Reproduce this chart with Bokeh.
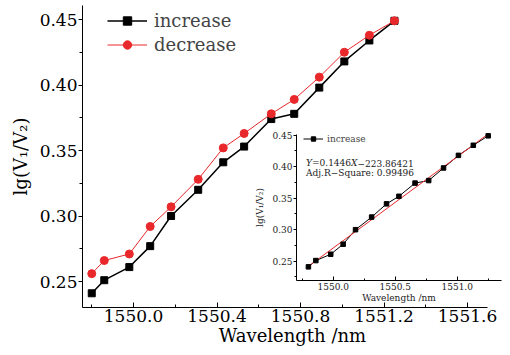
from bokeh.plotting import figure
from bokeh.models import (Range1d, LinearAxis, FixedTicker, PrintfTickFormatter,
                          Legend, LegendItem, Label)
from bokeh.embed import file_html
from bokeh.resources import INLINE

# ---------------- data ----------------
wavelength = [1549.80, 1549.86, 1549.98, 1550.08, 1550.18, 1550.31, 1550.43,
              1550.53, 1550.66, 1550.77, 1550.89, 1551.01, 1551.13, 1551.25]
increase = [0.241, 0.251, 0.261, 0.277, 0.300, 0.320, 0.341,
            0.353, 0.374, 0.378, 0.398, 0.418, 0.434, 0.449]
decrease = [0.256, 0.266, 0.271, 0.292, 0.307, 0.328, 0.352,
            0.363, 0.378, 0.389, 0.406, 0.425, 0.438, 0.449]
fit_x = [1549.80, 1551.25]
fit_y = [0.242, 0.452]

main_x_ticks = [1550.0, 1550.4, 1550.8, 1551.2, 1551.6]
main_x_minor = [1549.8, 1550.2, 1550.6, 1551.0, 1551.4]
main_y_ticks = [0.25, 0.30, 0.35, 0.40, 0.45]
main_y_minor = [0.275, 0.325, 0.375, 0.425]
inset_x_ticks = [1550.0, 1550.5, 1551.0]
inset_x_minor = [1549.75, 1550.25, 1550.75, 1551.25]
inset_y_ticks = [0.25, 0.30, 0.35, 0.40, 0.45]
inset_y_minor = [0.225, 0.275, 0.325, 0.375, 0.425]

eq_parts = ["Y", "=0.1446", "X", "\u2212223.86421"]
r2_text = "Adj.R\u2212Square: 0.99496"
y_label = "lg(V\u2081/V\u2082)"
x_label = "Wavelength /nm"

RED = "#e8282b"
FONT = "DejaVu Serif"

# ---------------- geometry (canvas px) ----------------
W, H = 510, 355
L, R, T, B = 82, 502, 5, 307

# main scale: 1550.0 at px 133, 208.75 px/nm ; 0.25 at py 281, 1310 px/unit
mx_ppu, mx_ref, mx_px = 208.75, 1550.0, 133.0
my_ppu, my_ref, my_py = 1310.0, 0.25, 281.0
x0 = mx_ref - (mx_px - L) / mx_ppu
x1 = mx_ref + (R - mx_px) / mx_ppu
xaxis_end = mx_ref + (487 - mx_px) / mx_ppu
y0 = my_ref - (B - my_py) / my_ppu
y1 = my_ref + (my_py - T) / my_ppu

# inset scale: 1550.0 at px 332.7, 124 px/nm ; 0.25 at py 260.7, 630 px/unit
ix_ppu, ix_ref, ix_px = 124.0, 1550.0, 332.7
iy_ppu, iy_ref, iy_py = 630.0, 0.25, 260.7
def ixd(px):
    return ix_ref + (px - ix_px) / ix_ppu
def iyd(py):
    return iy_ref - (py - iy_py) / iy_ppu

p = figure(width=W, height=H, output_backend="svg", toolbar_location=None,
           x_range=Range1d(x0, x1), y_range=Range1d(y0, y1),
           min_border_left=L, min_border_right=W - R,
           min_border_top=T, min_border_bottom=H - B,
           x_axis_type=None, y_axis_type=None)
p.outline_line_color = None
p.background_fill_color = "white"
p.border_fill_color = "white"
p.xgrid.visible = False
p.ygrid.visible = False

p.extra_x_ranges = {"ix": Range1d(ixd(L), ixd(R))}
p.extra_y_ranges = {"iy": Range1d(iyd(B), iyd(T))}

# ---------------- main axes ----------------
xax = LinearAxis(ticker=FixedTicker(ticks=main_x_ticks, minor_ticks=main_x_minor),
                 formatter=PrintfTickFormatter(format="%.1f"),
                 bounds=(x0, xaxis_end), axis_label=x_label)
yax = LinearAxis(ticker=FixedTicker(ticks=main_y_ticks, minor_ticks=main_y_minor),
                 formatter=PrintfTickFormatter(format="%.2f"),
                 axis_label=y_label)
for ax in (xax, yax):
    ax.axis_line_color = "black"
    ax.major_tick_line_color = "black"
    ax.minor_tick_line_color = "black"
    ax.major_label_text_font = FONT
    ax.major_label_text_font_size = "17px"
    ax.major_label_text_color = "black"
    ax.axis_label_text_font = FONT
    ax.axis_label_text_font_size = "18px"
    ax.axis_label_text_font_style = "normal"
    ax.axis_label_text_color = "black"
xax.major_tick_in, xax.major_tick_out = 5, 0
xax.minor_tick_in, xax.minor_tick_out = 3, 0
xax.major_label_standoff = 2
xax.axis_label_standoff = 0
yax.major_tick_in, yax.major_tick_out = 0, 4
yax.minor_tick_in, yax.minor_tick_out = 0, 3
yax.major_label_standoff = 1
yax.axis_label_standoff = 6
p.add_layout(xax, "below")
p.add_layout(yax, "left")

# ---------------- main series ----------------
l_inc = p.line(wavelength, increase, line_color="black", line_width=1.5)
s_inc = p.scatter(wavelength, increase, marker="square", size=7,
                  fill_color="black", line_color="black")
l_dec = p.line(wavelength, decrease, line_color=RED, line_width=1)
s_dec = p.scatter(wavelength, decrease, marker="circle", size=8,
                  fill_color=RED, line_color=RED)

leg = Legend(items=[LegendItem(label="increase", renderers=[l_inc, s_inc]),
                    LegendItem(label="decrease", renderers=[l_dec, s_dec])],
             location=(25, 252), padding=0, margin=0, spacing=3,
             glyph_width=40, glyph_height=21, label_height=21, label_standoff=7,
             label_text_font=FONT, label_text_font_size="18px",
             border_line_color=None, background_fill_alpha=0)
p.add_layout(leg, "center")

# ---------------- inset axes ----------------
i_x_start, i_x_end = ixd(296), ixd(500.7)
i_y_start, i_y_end = iyd(280), iyd(134)
ixax = LinearAxis(x_range_name="ix", y_range_name="iy",
                  ticker=FixedTicker(ticks=inset_x_ticks, minor_ticks=inset_x_minor),
                  formatter=PrintfTickFormatter(format="%.1f"),
                  fixed_location=i_y_start, bounds=(i_x_start, i_x_end),
                  axis_label=x_label)
iyax = LinearAxis(x_range_name="ix", y_range_name="iy",
                  ticker=FixedTicker(ticks=inset_y_ticks, minor_ticks=inset_y_minor),
                  formatter=PrintfTickFormatter(format="%.2f"),
                  fixed_location=i_x_start, bounds=(i_y_start, i_y_end),
                  axis_label=y_label)
for ax in (ixax, iyax):
    ax.axis_line_color = "black"
    ax.major_tick_line_color = "black"
    ax.minor_tick_line_color = "black"
    ax.major_label_text_font = FONT
    ax.major_label_text_font_size = "9px"
    ax.major_label_text_color = "#222222"
    ax.axis_label_text_font = FONT
    ax.axis_label_text_font_size = "9px"
    ax.axis_label_text_font_style = "normal"
    ax.axis_label_text_color = "#222222"
ixax.major_tick_in, ixax.major_tick_out = 4, 0
ixax.minor_tick_in, ixax.minor_tick_out = 2, 0
ixax.major_label_standoff = 2
ixax.axis_label_standoff = 0
iyax.major_tick_in, iyax.major_tick_out = 0, 3
iyax.minor_tick_in, iyax.minor_tick_out = 0, 2
iyax.major_label_standoff = 1
iyax.axis_label_standoff = 4
p.add_layout(ixax, "below")
p.add_layout(iyax, "left")

# ---------------- inset series ----------------
il = p.line(wavelength, increase, line_color="black", line_width=1,
            x_range_name="ix", y_range_name="iy")
p.line(fit_x, fit_y, line_color=RED, line_width=1,
       x_range_name="ix", y_range_name="iy")
isq = p.scatter(wavelength, increase, marker="square", size=4.5,
                fill_color="black", line_color="black",
                x_range_name="ix", y_range_name="iy")

ileg = Legend(items=[LegendItem(label="increase", renderers=[il, isq])],
              location=(221, 163), padding=0, margin=0,
              glyph_width=20, glyph_height=11, label_height=11, label_standoff=4,
              label_text_font=FONT, label_text_font_size="9px",
              border_line_color=None, background_fill_alpha=0)
p.add_layout(ileg, "center")

# equation text
eq_offsets = [0, 6.0, 45.0, 51.5]
eq_styles = ["italic", "normal", "italic", "normal"]
for txt, off, st in zip(eq_parts, eq_offsets, eq_styles):
    p.add_layout(Label(x=ixd(305.5), y=iyd(162.7), x_offset=off, text=txt,
                       x_range_name="ix", y_range_name="iy",
                       text_font=FONT, text_font_size="9px", text_font_style=st,
                       text_baseline="middle", text_align="left", text_color="#222222"))
p.add_layout(Label(x=ixd(305.5), y=iyd(172.7), text=r2_text,
                   x_range_name="ix", y_range_name="iy",
                   text_font=FONT, text_font_size="9px",
                   text_baseline="middle", text_align="left", text_color="#222222"))

open("out.html", "w").write(file_html(p, INLINE))
